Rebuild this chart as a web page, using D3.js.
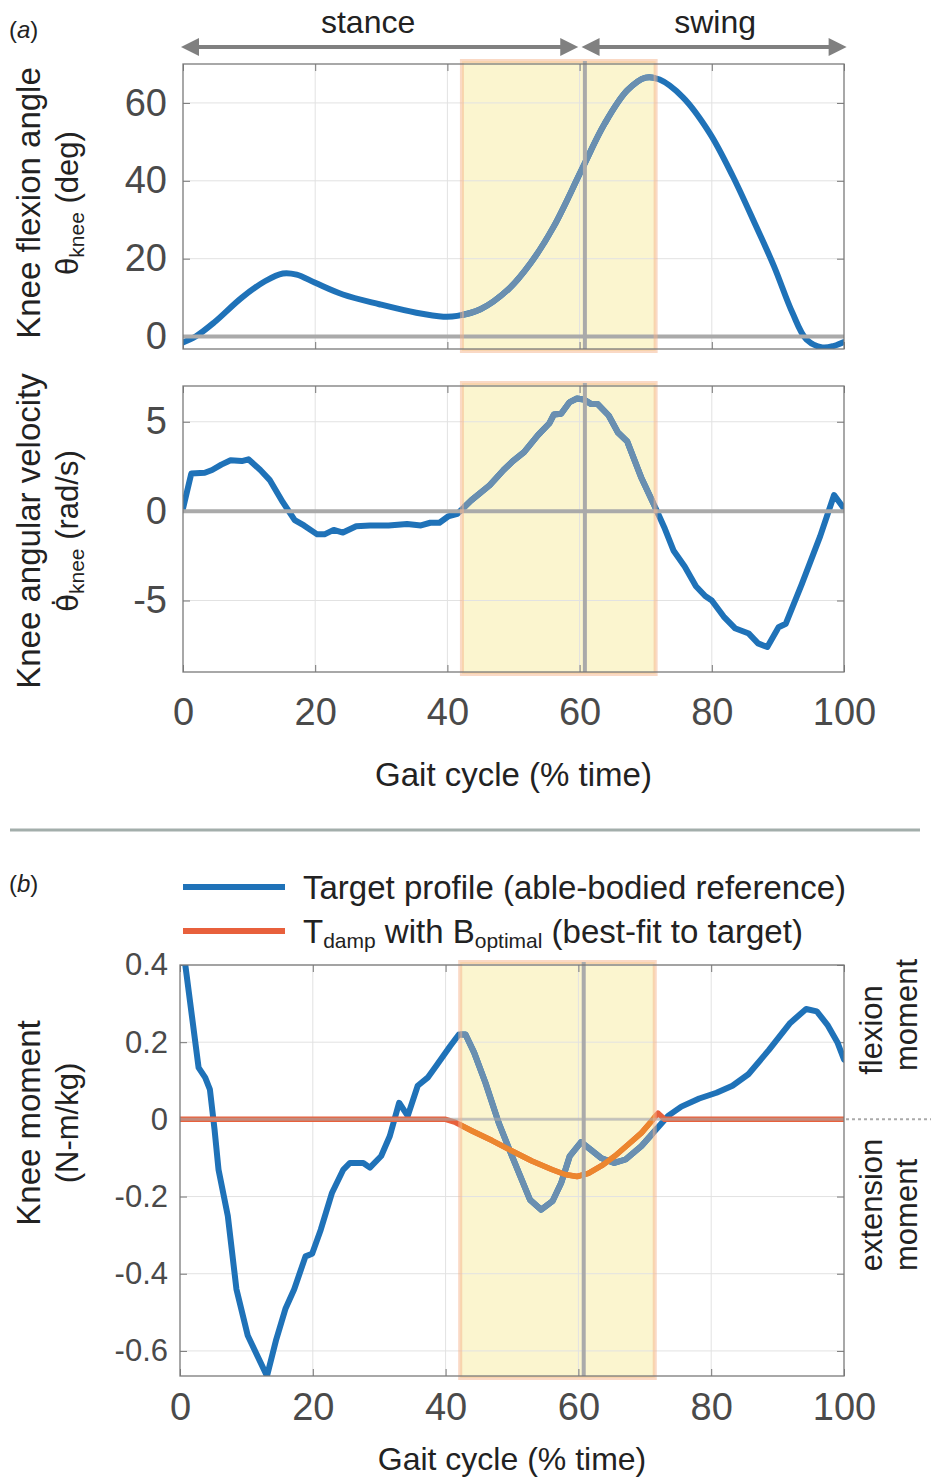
<!DOCTYPE html>
<html>
<head>
<meta charset="utf-8">
<script src="https://cdn.jsdelivr.net/npm/d3@7"></script>
<style>
  body { margin: 0; background: #fff; }
  text { font-family: "Liberation Sans", Arial, Helvetica, sans-serif; }
</style>
</head>
<body>
<script>
// ---- data (x = % of gait cycle) ----
var angPct = [0, 1.9, 4.7, 8.9, 12.4, 15.1, 17.2, 20, 24.2, 29.7, 35.3, 39.4, 41.5, 45, 49.2, 52.6, 56.1, 60.3, 63.8, 67.2, 70, 72.1, 75.6, 79.7, 83.2, 86.7, 89.4, 92.2, 94.3, 96.7, 98.5, 100];
var angDeg = [-1.5, 0, 3.6, 10, 14.2, 16.2, 15.9, 13.8, 10.8, 8.3, 6.1, 5.1, 5.3, 7, 12.1, 18.9, 28.3, 42.8, 54.7, 63.2, 66.5, 66, 61.5, 52.2, 41.1, 28.3, 18.1, 6.1, -0.7, -2.8, -2.4, -1.4];

var velPct = [0, 1.25, 3.3, 4.4, 5.8, 7.2, 8.9, 9.9, 11.7, 13.1, 15.1, 16.9, 18.3, 20.3, 21.4, 22.8, 24.2, 26.2, 28.3, 31.1, 33.9, 36, 37.4, 38.8, 40.1, 41.5, 43.6, 46.4, 48.5, 49.9, 51.6, 53.7, 55.4, 56.1, 57.2, 58.5, 59.6, 60.6, 61.7, 62.7, 64.4, 65.8, 67.2, 69.3, 71.4, 72.8, 74.2, 75.9, 77.6, 79, 80, 81.8, 83.5, 85.6, 87, 88.4, 90.1, 91.2, 93.6, 96.4, 98.5, 100];
var velRad = [0.15, 2.1, 2.15, 2.3, 2.6, 2.85, 2.8, 2.9, 2.3, 1.75, 0.5, -0.5, -0.8, -1.3, -1.3, -1.05, -1.2, -0.85, -0.8, -0.8, -0.72, -0.8, -0.65, -0.65, -0.3, -0.15, 0.6, 1.45, 2.3, 2.8, 3.3, 4.25, 4.9, 5.4, 5.45, 6.1, 6.3, 6.25, 6.0, 6.0, 5.35, 4.4, 3.9, 1.9, 0.25, -0.9, -2.2, -3.1, -4.2, -4.75, -5.0, -5.9, -6.55, -6.85, -7.4, -7.6, -6.5, -6.3, -4.1, -1.4, 0.9, 0.15];

var momPct = [0, 0.8, 2.8, 3.8, 4.5, 5.2, 5.8, 7.2, 8.5, 10.2, 13.1, 14.5, 15.9, 17.2, 18.9, 19.9, 21.2, 22.9, 24.6, 25.6, 27.6, 28.6, 30.3, 31.6, 33, 34.3, 35.8, 37.3, 38.6, 40.7, 42, 43, 44.3, 46, 48, 50, 52.7, 54.4, 56.1, 57.4, 58.7, 60.4, 61.8, 63.4, 65.4, 67.1, 69.5, 71.5, 73.5, 75.5, 78.2, 80.8, 83.2, 85.6, 88.7, 91.9, 94.3, 95.9, 97.5, 99, 100];
var momTarget = [0.46, 0.4, 0.134, 0.108, 0.078, -0.026, -0.13, -0.25, -0.44, -0.56, -0.665, -0.57, -0.49, -0.44, -0.355, -0.348, -0.286, -0.19, -0.13, -0.113, -0.113, -0.125, -0.095, -0.043, 0.043, 0.009, 0.087, 0.108, 0.139, 0.19, 0.22, 0.22, 0.173, 0.095, -0.009, -0.095, -0.208, -0.234, -0.212, -0.165, -0.095, -0.059, -0.078, -0.1, -0.113, -0.104, -0.069, -0.03, 0.009, 0.033, 0.054, 0.069, 0.087, 0.117, 0.18, 0.25, 0.286, 0.28, 0.245, 0.2, 0.155];

var dampPct = [0, 40, 41.5, 44, 47, 50, 53, 56, 58, 59.8, 61.5, 63.5, 65.5, 67.5, 69.5, 71, 72, 73, 100];
var dampMom = [0, 0, -0.008, -0.03, -0.055, -0.082, -0.108, -0.13, -0.143, -0.148, -0.14, -0.12, -0.095, -0.065, -0.035, -0.005, 0.016, 0, 0];

var xTicks = [0, 20, 40, 60, 80, 100];
var angTicks = [0, 20, 40, 60];
var velTicks = [-5, 0, 5];
var momTicks = [-0.6, -0.4, -0.2, 0, 0.2, 0.4];
var window_ = [42.2, 71.5];   // highlighted window
var toeOff = 60.8;            // stance / swing boundary

var blue = "#1f72b8", blueIn = "#6a8fb0";
var orange = "#e8603c", orangeIn = "#ec862e";
var grey = "#aaaaaa";

var svg = d3.select("body").append("svg")
    .attr("width", 931)
    .attr("height", 1481);
svg.append("rect").attr("width", 931).attr("height", 1481).attr("fill", "#fff");

function makePanel(o) {
  var x = d3.scaleLinear().domain([0, 100]).range([o.left, o.right]);
  var y = d3.scaleLinear().domain(o.yDomain).range([o.bottom, o.top]);
  var g = svg.append("g");
  var id = "clip" + o.top;
  svg.append("clipPath").attr("id", id).append("rect")
    .attr("x", o.left).attr("y", o.top).attr("width", o.right - o.left).attr("height", o.bottom - o.top);
  svg.append("clipPath").attr("id", id + "w").append("rect")
    .attr("x", x(window_[0])).attr("y", o.top).attr("width", x(window_[1]) - x(window_[0])).attr("height", o.bottom - o.top);

  // highlighted window fill
  g.append("rect")
    .attr("x", x(window_[0])).attr("width", x(window_[1]) - x(window_[0]))
    .attr("y", o.top - 3).attr("height", o.bottom - o.top + 5)
    .attr("fill", "#fbf5cf");

  // grid
  g.selectAll(".gx").data(xTicks.slice(1, -1)).enter().append("line")
    .attr("x1", d => x(d)).attr("x2", d => x(d))
    .attr("y1", o.top).attr("y2", o.bottom)
    .attr("stroke", "#e2e2e2").attr("stroke-width", 1);
  g.selectAll(".gy").data(o.yTicks).enter().append("line")
    .attr("x1", o.left).attr("x2", o.right)
    .attr("y1", d => y(d)).attr("y2", d => y(d))
    .attr("stroke", "#e2e2e2").attr("stroke-width", 1);

  // axes (inward ticks on all sides)
  var fmt = o.fmt || (d => d);
  g.append("g").attr("transform", `translate(${o.left},0)`)
    .call(d3.axisLeft(y).tickValues(o.yTicks).tickSize(-7).tickPadding(o.yPad || 16).tickFormat(fmt))
    .call(a => a.select(".domain").remove())
    .call(a => a.selectAll("text").attr("font-size", o.yFont).attr("fill", "#4a4a4a"))
    .call(a => a.selectAll("line").attr("stroke", "#777"));
  g.append("g").attr("transform", `translate(${o.right},0)`)
    .call(d3.axisRight(y).tickValues(o.yTicks).tickSize(-7).tickFormat(""))
    .call(a => a.select(".domain").remove())
    .call(a => a.selectAll("line").attr("stroke", "#777"));
  g.append("g").attr("transform", `translate(0,${o.bottom})`)
    .call(d3.axisBottom(x).tickValues(xTicks).tickSize(-7).tickPadding(o.xPad || 26).tickFormat(o.xLabels ? (d => d) : ""))
    .call(a => a.select(".domain").remove())
    .call(a => a.selectAll("text").attr("font-size", 38).attr("fill", "#4a4a4a"))
    .call(a => a.selectAll("line").attr("stroke", "#777"));
  g.append("g").attr("transform", `translate(0,${o.top})`)
    .call(d3.axisTop(x).tickValues(xTicks).tickSize(-7).tickFormat(""))
    .call(a => a.select(".domain").remove())
    .call(a => a.selectAll("line").attr("stroke", "#777"));

  var lines = g.append("g").attr("clip-path", `url(#${id})`);
  var inWin = g.append("g").attr("clip-path", `url(#${id}w)`);
  o.series.forEach(function(s) {
    var pts = s.xs.map((v, i) => [v, s.ys[i]]);
    var line = d3.line().x(d => x(d[0])).y(d => y(d[1])).curve(s.curve || d3.curveLinear);
    [[lines, s.color], [inWin, s.colorIn]].forEach(function(p) {
      p[0].append("path").datum(pts)
        .attr("fill", "none")
        .attr("stroke", p[1])
        .attr("stroke-width", s.width)
        .attr("stroke-linejoin", "round")
        .attr("stroke-linecap", "round")
        .attr("d", line);
    });
  });

  // zero line
  g.append("line")
    .attr("x1", o.left).attr("x2", o.right)
    .attr("y1", y(0)).attr("y2", y(0))
    .attr("stroke", grey).attr("stroke-width", o.zeroW || 4).attr("opacity", o.zeroOp || 1);

  // window border
  g.append("rect")
    .attr("x", x(window_[0])).attr("width", x(window_[1]) - x(window_[0]))
    .attr("y", o.top - 3).attr("height", o.bottom - o.top + 5)
    .attr("fill", "none")
    .attr("stroke", "#f5b48c").attr("stroke-opacity", 0.5).attr("stroke-width", 4);
  // toe-off line
  g.append("line")
    .attr("x1", x(toeOff)).attr("x2", x(toeOff))
    .attr("y1", o.top - 3).attr("y2", o.bottom)
    .attr("stroke", grey).attr("stroke-width", 4);

  // frame
  g.append("rect")
    .attr("x", o.left).attr("y", o.top)
    .attr("width", o.right - o.left).attr("height", o.bottom - o.top)
    .attr("fill", "none").attr("stroke", "#7a7a7a").attr("stroke-width", 1.3);
  return {x: x, y: y};
}

// ---- panel (a): knee angle ----
var pA = makePanel({
  top: 64, bottom: 349, left: 183, right: 844,
  yDomain: [-3.2, 70], yTicks: angTicks, yFont: 38,
  series: [{xs: angPct, ys: angDeg, color: blue, colorIn: blueIn, width: 6, curve: d3.curveCatmullRom}]
});
// ---- panel (a): knee angular velocity ----
var pB = makePanel({
  top: 386, bottom: 672, left: 183, right: 844,
  yDomain: [-9, 7], yTicks: velTicks, yFont: 38, xLabels: true,
  series: [{xs: velPct, ys: velRad, color: blue, colorIn: blueIn, width: 6}]
});
// ---- panel (b): knee moment ----
var pC = makePanel({
  top: 965, bottom: 1376, left: 180, right: 844,
  yDomain: [-0.665, 0.4], yTicks: momTicks, yFont: 31, yPad: 12, xLabels: true, xPad: 17,
  fmt: d => d === 0 ? "0" : d3.format(".1f")(d).replace("−", "-"),
  zeroW: 3, zeroOp: 0.6,
  series: [
    {xs: momPct, ys: momTarget, color: blue, colorIn: blueIn, width: 6},
    {xs: dampPct, ys: dampMom, color: orange, colorIn: orangeIn, width: 5.5}
  ]
});

// stance / swing arrows
function arrow(x1, x2, yy) {
  var h = 18, w = 9;
  svg.append("line").attr("x1", x1 + h - 2).attr("x2", x2 - h + 2).attr("y1", yy).attr("y2", yy)
    .attr("stroke", "#808080").attr("stroke-width", 4);
  svg.append("path").attr("d", `M${x1},${yy}L${x1 + h},${yy - w}L${x1 + h},${yy + w}Z`).attr("fill", "#808080");
  svg.append("path").attr("d", `M${x2},${yy}L${x2 - h},${yy - w}L${x2 - h},${yy + w}Z`).attr("fill", "#808080");
}
arrow(pA.x(-0.3), pA.x(59.8), 47);
arrow(pA.x(60.3), pA.x(100.4), 47);
svg.append("text").attr("x", pA.x(28)).attr("y", 33).attr("text-anchor", "middle")
  .attr("font-size", 32).attr("fill", "#222").text("stance");
svg.append("text").attr("x", pA.x(80.5)).attr("y", 33).attr("text-anchor", "middle")
  .attr("font-size", 32).attr("fill", "#222").text("swing");

// panel letters
function panelLetter(letter, yy) {
  var t = svg.append("text").attr("x", 9).attr("y", yy).attr("font-size", 24).attr("fill", "#222");
  t.append("tspan").text("(");
  t.append("tspan").attr("font-style", "italic").text(letter);
  t.append("tspan").text(")");
}
panelLetter("a", 38);
panelLetter("b", 892);

// y-axis titles (two lines, rotated)
function yTitle(cy, line1, line2parts) {
  svg.append("text").attr("transform", `translate(40,${cy}) rotate(-90)`)
    .attr("text-anchor", "middle").attr("font-size", 33).attr("fill", "#222").text(line1);
  var t = svg.append("text").attr("transform", `translate(78,${cy}) rotate(-90)`)
    .attr("text-anchor", "middle").attr("font-size", 31).attr("fill", "#222");
  line2parts.forEach(function(p) {
    var s = t.append("tspan").text(p.t);
    if (p.sym) s.attr("font-family", "DejaVu Sans").attr("font-size", 29);
    if (p.sub) s.attr("font-size", 21).attr("dy", 6);
    if (p.up) s.attr("dy", -6);
  });
}
yTitle(203, "Knee flexion angle", [{t: "θ"}, {t: "knee", sub: true}, {t: " (deg)", up: true}]);
yTitle(531, "Knee angular velocity", [{t: "θ\u0307", sym: true}, {t: "knee", sub: true}, {t: " (rad/s)", up: true}]);
yTitle(1123, "Knee moment", [{t: "(N-m/kg)"}]);

// x-axis titles
svg.append("text").attr("x", pB.x(50)).attr("y", 786).attr("text-anchor", "middle")
  .attr("font-size", 33).attr("fill", "#222").text("Gait cycle (% time)");
svg.append("text").attr("x", pC.x(50)).attr("y", 1470).attr("text-anchor", "middle")
  .attr("font-size", 32).attr("fill", "#222").text("Gait cycle (% time)");

// separator between (a) and (b)
svg.append("line").attr("x1", 10).attr("x2", 920).attr("y1", 830).attr("y2", 830)
  .attr("stroke", "#a3aeab").attr("stroke-width", 3);

// legend
var legend = [
  {color: blue, y: 887, parts: [{t: "Target profile (able-bodied reference)"}]},
  {color: orange, y: 931, parts: [{t: "T"}, {t: "damp", sub: true}, {t: " with B", up: true}, {t: "optimal", sub: true}, {t: " (best-fit to target)", up: true}]}
];
legend.forEach(function(l) {
  svg.append("line").attr("x1", 183).attr("x2", 285).attr("y1", l.y).attr("y2", l.y)
    .attr("stroke", l.color).attr("stroke-width", 6);
  var t = svg.append("text").attr("x", 303).attr("y", l.y + 12).attr("font-size", 33).attr("fill", "#222");
  l.parts.forEach(function(p) {
    var s = t.append("tspan").text(p.t);
    if (p.sub) s.attr("font-size", 21).attr("dy", 5);
    if (p.up) s.attr("dy", -5);
  });
});

// flexion / extension annotation on the right
svg.append("line").attr("x1", 846).attr("x2", 931).attr("y1", pC.y(0)).attr("y2", pC.y(0))
  .attr("stroke", "#aaa").attr("stroke-width", 2).attr("stroke-dasharray", "3,3");
[["flexion", 882, 1030], ["moment", 917, 1015], ["extension", 882, 1205], ["moment", 917, 1215]].forEach(function(a) {
  svg.append("text").attr("transform", `translate(${a[1]},${a[2]}) rotate(-90)`)
    .attr("text-anchor", "middle").attr("font-size", 31).attr("fill", "#222").text(a[0]);
});
</script>
</body>
</html>
